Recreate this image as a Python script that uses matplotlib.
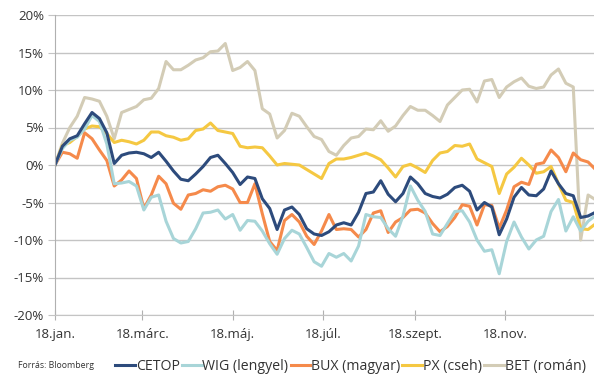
import numpy as np
import pandas as pd
import matplotlib
matplotlib.use("Agg")
import matplotlib.pyplot as plt
from matplotlib.ticker import FuncFormatter

plt.rcParams['font.family'] = ['Open Sans', 'DejaVu Sans']

# dátumok: 5 naponként + év vége
dates = list(pd.date_range('2018-01-01', periods=73, freq='5D')) + [pd.Timestamp('2018-12-31')]

cetop = [0, 2.5, 3.5, 3.9, 5.5, 7.0, 6.2, 4.3, 0.2, 1.3, 1.6, 1.7, 1.5, 1.0, 1.7, 0.5,
         -0.8, -1.9, -2.1, -1.2, -0.2, 1.0, 1.3, 0.2, -1.0, -2.6, -1.6, -1.8, -4.5, -5.8,
         -8.6, -6.0, -5.6, -6.6, -8.5, -9.2, -9.4, -8.9, -8.0, -7.7, -8.0, -6.3, -3.8, -3.6,
         -2.1, -3.9, -4.9, -3.8, -1.6, -2.5, -3.8, -4.2, -4.4, -3.9, -3.0, -2.7, -3.5, -6.0,
         -5.0, -5.6, -9.3, -7.2, -4.3, -3.0, -4.0, -4.1, -3.2, -0.8, -2.5, -3.8, -4.1, -7.0,
         -6.8, -6.4]
wig = [0, 2.2, 3.3, 3.7, 4.8, 6.6, 5.8, 2.8, -2.5, -2.4, -2.2, -2.8, -6.0, -4.3, -4.0, -7.5,
       -9.8, -10.4, -10.2, -8.5, -6.4, -6.3, -6.0, -7.2, -6.6, -8.7, -7.4, -7.5, -8.8, -10.5,
       -11.9, -9.8, -8.7, -9.2, -11.0, -12.9, -13.5, -11.8, -12.3, -11.8, -12.8, -10.8, -6.6,
       -6.9, -7.0, -8.5, -9.5, -6.8, -2.8, -4.7, -6.2, -9.2, -9.4, -7.8, -6.2, -6.1, -7.6,
       -10.0, -11.5, -11.3, -14.5, -10.2, -7.6, -9.6, -11.2, -10.0, -9.5, -6.2, -4.6, -8.8,
       -6.9, -8.8, -7.5, -6.9]
bux = [0, 1.7, 1.5, 0.9, 4.3, 3.5, 2.0, 0.6, -2.8, -2.0, -0.8, -1.8, -5.8, -4.0, -1.5, -2.5,
       -5.1, -5.9, -4.0, -3.8, -3.3, -3.5, -2.9, -2.7, -3.2, -5.0, -5.0, -2.5, -6.5, -10.2,
       -11.4, -7.4, -6.6, -7.6, -9.5, -10.6, -8.8, -6.6, -8.6, -8.5, -8.6, -9.6, -8.6, -6.4,
       -6.1, -9.0, -7.6, -7.0, -6.0, -5.9, -6.4, -7.8, -8.9, -8.2, -7.0, -5.3, -5.5, -8.0,
       -5.3, -5.4, -8.4, -6.0, -2.9, -2.3, -2.6, 0.1, 0.3, 2.0, 1.0, -0.9, 1.6, 0.7, 0.4, -0.4]
px = [0, 2.6, 3.0, 3.8, 4.8, 5.2, 5.1, 4.2, 3.0, 3.3, 3.1, 2.8, 3.3, 4.4, 4.4, 3.9, 3.7, 3.3,
      3.5, 4.6, 4.8, 5.6, 4.6, 4.4, 4.2, 2.5, 2.3, 2.4, 2.3, 1.2, 0.0, 0.2, 0.1, 0.0, -0.6,
      -1.2, -1.8, 0.2, 0.8, 0.8, 1.0, 1.3, 1.6, 1.2, 0.7, -0.4, -1.6, -0.2, 0.1, -0.4, -1.0,
      0.6, 1.6, 1.8, 2.6, 2.5, 2.8, 0.8, 0.3, -0.2, -3.8, -1.2, -0.3, 0.9, 0.0, -1.1, -0.9,
      -0.2, -2.5, -4.7, -5.0, -8.5, -8.6, -8.0]
bet = [0, 2.9, 5.0, 6.5, 9.0, 8.8, 8.5, 6.5, 3.5, 7.0, 7.4, 7.8, 8.7, 8.9, 10.2, 13.8, 12.7,
       12.7, 13.3, 14.0, 14.3, 15.1, 15.2, 16.2, 12.6, 13.0, 13.8, 12.6, 7.5, 6.8, 3.6, 4.6,
       6.9, 6.5, 5.1, 3.8, 3.4, 1.8, 1.3, 2.6, 3.6, 3.8, 4.8, 4.7, 5.9, 4.5, 5.2, 6.6, 7.8,
       7.3, 7.3, 6.6, 5.8, 8.0, 9.0, 10.0, 10.1, 8.4, 11.2, 11.4, 9.0, 10.4, 11.1, 11.6, 10.5,
       10.2, 10.4, 12.0, 12.8, 10.9, 10.4, -10.0, -4.0, -4.5]

series = [("CETOP", cetop, "#2d4b7c"),
          ("WIG (lengyel)", wig, "#a8d5d8"),
          ("BUX (magyar)", bux, "#f58a4b"),
          ("PX (cseh)", px, "#f5c842"),
          ("BET (román)", bet, "#d3ccb6")]

tick_dates = pd.to_datetime(['2018-01-01', '2018-03-01', '2018-05-01',
                             '2018-07-01', '2018-09-01', '2018-11-01'])
tick_labels = ['18.jan.', '18.márc.', '18.máj.', '18.júl.', '18.szept.', '18.nov.']

fig = plt.figure(figsize=(5.94, 3.76), dpi=100)
ax = fig.add_axes([55 / 594, 1 - 315 / 376, 539 / 594, 300 / 376])

# rajzolási sorrend: BET hátul, CETOP elöl
for name, vals, col in reversed(series):
    ax.plot(dates, vals, color=col, lw=2.2, label=name, solid_joinstyle='round')

ax.set_ylim(-20, 20)
ax.set_yticks(np.arange(-20, 21, 5))
ax.yaxis.set_major_formatter(FuncFormatter(lambda v, p: f"{int(v)}%"))
ax.grid(axis='y', color='#c4c4c4', lw=1)
ax.set_axisbelow(True)

ax.set_xlim(pd.Timestamp('2018-01-01'), pd.Timestamp('2018-12-31'))
ax.set_xticks(tick_dates)
ax.set_xticklabels(tick_labels)

for s in ['top', 'right']:
    ax.spines[s].set_visible(False)
ax.spines['left'].set_color('#b0b0b0')
ax.spines['bottom'].set_color('#c4c4c4')
ax.tick_params(axis='y', length=5, color='#c4c4c4', labelsize=9.5, labelcolor='#333333', pad=3)
ax.tick_params(axis='x', direction='inout', length=7, color='#b0b0b0', labelsize=9.5,
               labelcolor='#333333', pad=6)

fig.text(0.03, 0.02, "Forrás: Bloomberg", fontsize=6.3, color='#333333')

handles, labels = ax.get_legend_handles_labels()
fig.legend(handles[::-1], labels[::-1], loc='lower right', bbox_to_anchor=(1.005, -0.026),
           ncol=5, frameon=False, fontsize=10.2, handlelength=1.4, handletextpad=0.05,
           columnspacing=0.15, borderpad=0.3, labelcolor='#333333')

fig.savefig("out.png", dpi=100)
